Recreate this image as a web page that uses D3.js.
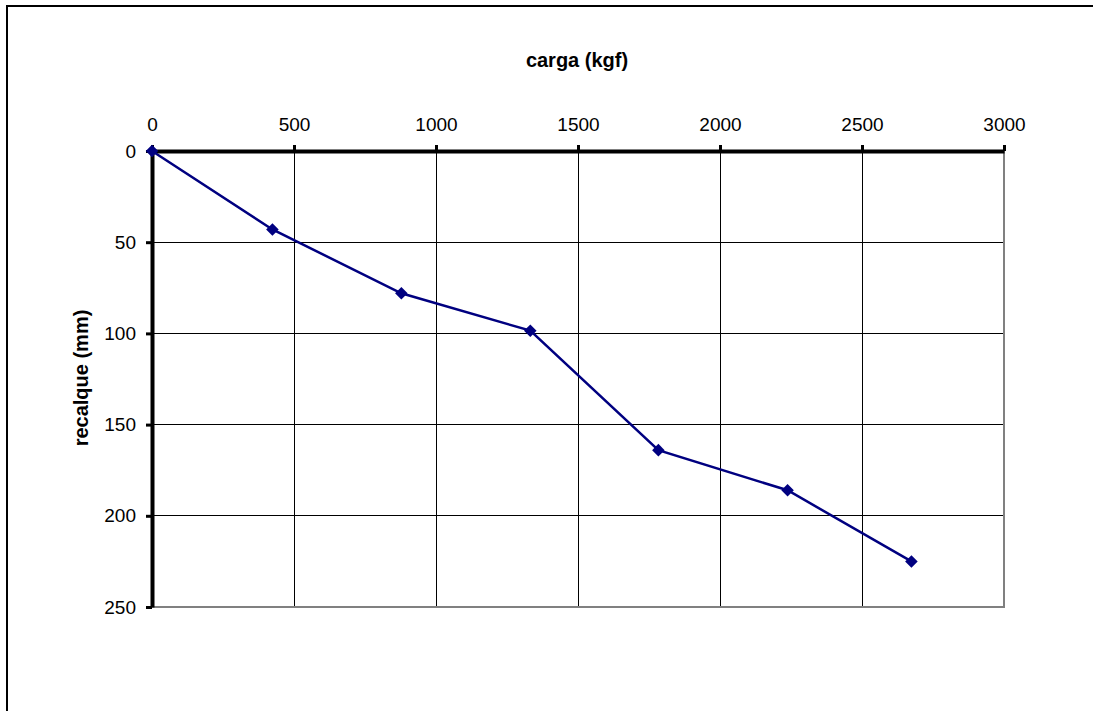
<!DOCTYPE html>
<html>
<head>
<meta charset="utf-8">
<script src="https://cdn.jsdelivr.net/npm/d3@7"></script>
<style>
  html, body { margin: 0; padding: 0; background: #fff; overflow: hidden; }
  svg { display: block; font-family: "Liberation Sans", Arial, sans-serif; }
</style>
</head>
<body>
<svg id="chart" width="1093" height="711"></svg>
<script>
// Load test: applied load vs. settlement
const carga = [0, 424, 878, 1332, 1783, 2238, 2674];       // kgf
const recalque = [0, 43, 78, 98.5, 164, 186, 225];          // mm
const xTicks = [0, 500, 1000, 1500, 2000, 2500, 3000];
const yTicks = [0, 50, 100, 150, 200, 250];
const xTitle = "carga (kgf)";
const yTitle = "recalque (mm)";

const svg = d3.select("#chart");
const W = 1093, H = 711;
const plot = { left: 152, right: 1004, top: 151, bottom: 607 };

const x = d3.scaleLinear().domain([0, 3000]).range([plot.left, plot.right]);
const y = d3.scaleLinear().domain([0, 250]).range([plot.top, plot.bottom]);

// Outer chart frame: only its top and left edges fall on the page
svg.append("path")
  .attr("d", `M7,${H}V6H${W}`)
  .attr("fill", "none").attr("stroke", "#000").attr("stroke-width", 2);

// Gridlines
const grid = svg.append("g").attr("shape-rendering", "crispEdges");
grid.selectAll("line.v").data(xTicks.slice(1, -1)).join("line")
  .attr("x1", d => x(d)).attr("x2", d => x(d))
  .attr("y1", plot.top).attr("y2", plot.bottom)
  .attr("stroke", "#000").attr("stroke-width", 1);
grid.selectAll("line.h").data(yTicks.slice(1, -1)).join("line")
  .attr("x1", plot.left).attr("x2", plot.right)
  .attr("y1", d => y(d)).attr("y2", d => y(d))
  .attr("stroke", "#000").attr("stroke-width", 1);

// Plot-area border (right and bottom)
svg.append("path")
  .attr("d", `M${plot.right},${plot.top}V${plot.bottom}H${plot.left}`)
  .attr("fill", "none").attr("stroke", "#808080").attr("stroke-width", 2);

const fmt = d3.format("d");

// X axis along the top
const xAxis = d3.axisTop(x).tickValues(xTicks).tickFormat(fmt)
  .tickSize(6).tickSizeOuter(0).tickPadding(14);
const gx = svg.append("g").attr("transform", `translate(0,${plot.top})`).call(xAxis);
gx.select(".domain").attr("stroke", "#000").attr("stroke-width", 4);
gx.selectAll(".tick line").attr("stroke", "#000").attr("stroke-width", 3);
gx.selectAll(".tick text").attr("fill", "#000").style("font-size", "19px")
  .style("font-family", "'Liberation Sans', Arial, sans-serif");

// Y axis on the left (values increase downward)
const yAxis = d3.axisLeft(y).tickValues(yTicks).tickFormat(fmt)
  .tickSize(6).tickSizeOuter(0).tickPadding(10);
const gy = svg.append("g").attr("transform", `translate(${plot.left},0)`).call(yAxis);
gy.select(".domain").attr("stroke", "#000").attr("stroke-width", 4);
gy.selectAll(".tick line").attr("stroke", "#000").attr("stroke-width", 3);
gy.selectAll(".tick text").attr("fill", "#000").style("font-size", "19px")
  .style("font-family", "'Liberation Sans', Arial, sans-serif");

// Axis titles
svg.append("text")
  .attr("x", 577).attr("y", 67)
  .attr("text-anchor", "middle")
  .style("font-size", "20px").style("font-weight", "bold")
  .text(xTitle);
svg.append("text")
  .attr("transform", `translate(88,378) rotate(-90)`)
  .attr("text-anchor", "middle")
  .style("font-size", "20px").style("font-weight", "bold")
  .text(yTitle);

// Series line and diamond markers
const pts = carga.map((c, i) => [c, recalque[i]]);
svg.append("path")
  .datum(pts)
  .attr("d", d3.line().x(d => x(d[0])).y(d => y(d[1])))
  .attr("fill", "none").attr("stroke", "#000080").attr("stroke-width", 2.5);

svg.append("g").selectAll("path").data(pts).join("path")
  .attr("transform", d => `translate(${x(d[0])},${y(d[1])})`)
  .attr("d", d3.symbol(d3.symbolDiamond2, 100)())
  .attr("fill", "#000080");
</script>
</body>
</html>
